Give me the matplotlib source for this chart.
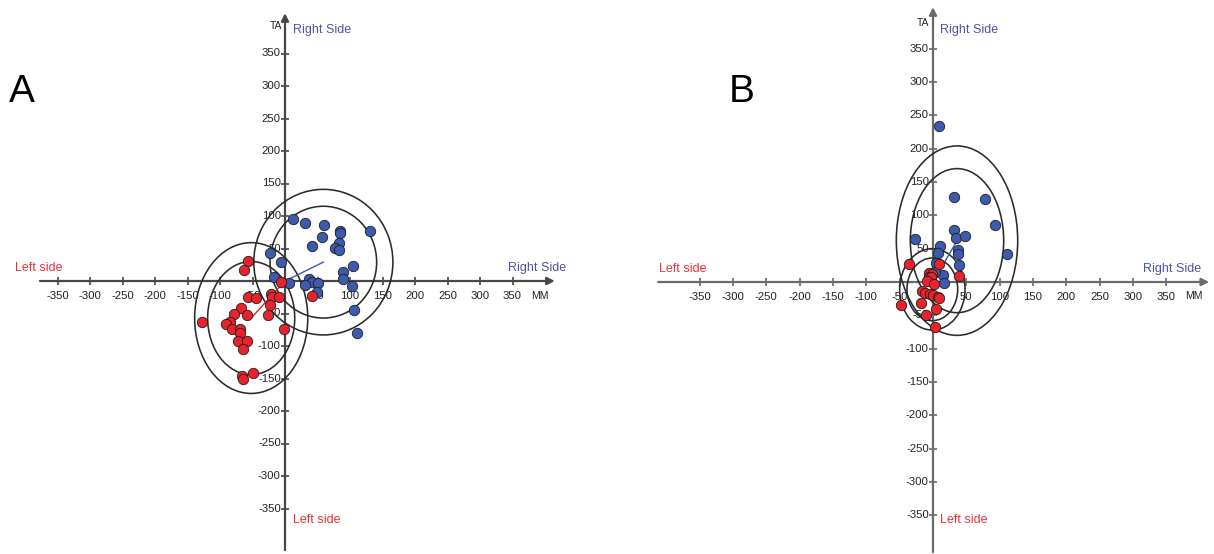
import matplotlib.pyplot as plt
from matplotlib.patches import Ellipse

plt.rcParams['font.family'] = ['Liberation Sans', 'DejaVu Sans']

# tick values shared by both panels (0 has no label)
tick_values = [-350, -300, -250, -200, -150, -100, -50, 50, 100, 150, 200, 250, 300, 350]

# Panel A - right side (blue) points: MM, TA
a_right_mm = [12.8, 31.3, 60, 57, 41, 84.6, 84.6, 131, 83.6, 76.4, 83.6, -22.6, -5.6,
              -16.4, 6.2, 36.9, 41, 31.3, 50.3, 49.7, 89.7, 88.7, 104.6, 103, 106.7, 111.3]
a_right_ta = [95.4, 89.2, 86.2, 67.7, 53.8, 76.9, 73.8, 76.9, 58.5, 50.3, 48.2, 42.6, 29.7,
              5.6, -2.6, 2.6, -1.5, -6.2, -2.6, -16.4, 13.8, 2.6, 22.6, -8.2, -45.1, -80]
# Panel A - left side (red) points
a_left_mm = [-56.9, -62.6, -6.7, -56.9, -44.6, -21, -20.5, -9.2, -22.6, -25.6, -67.2, -77.9,
             -57.9, -84.6, -91.3, -127, -81.5, -69.2, -68.7, -1, -72.3, -57.9, -65.1, -66.1,
             -64.6, -49.7, 41.5]
a_left_ta = [30.8, 17.4, -2.1, -24.6, -26.7, -20.5, -24.6, -24.6, -36.9, -52.3, -41, -50.3,
             -51.8, -62.6, -65.6, -62.6, -74.4, -73.8, -80, -74.4, -92.8, -92.3, -104.6,
             -145.6, -151.3, -142, -23.6]

# Panel B - right side (blue) points
b_right_mm = [8.5, 31.5, 78.5, 92.5, 111, -26.5, 32, 34, 48.5, 11, 7, 37, 37, 38.5, 4.5, 15, 16, 2.5]
b_right_ta = [234, 128, 125, 85, 41.5, 64, 78, 66, 68.5, 54, 44, 48, 42, 25.5, 29, 10.5, -2, 15.5]
# Panel B - left side (red) points
b_left_mm = [-36.5, 8.5, 39.5, -6.5, -1.5, -6.5, -2.5, -9, 1, -16.5, -11.5, -4, 0, 7, 8.5,
             -18, -48, -10, 5, 3.5]
b_left_ta = [26.5, 26.5, 9.5, 13, 11.5, 8, 8, 2, -3.5, -13.5, -17, -18.5, -20, -22, -24.5,
             -31, -35, -49.5, -40, -67]

# confidence ellipses: center (MM, TA), outer semi-axes, inner semi-axes
a_right_center = (59, 29)
a_right_outer = (107, 112)
a_right_inner = (82, 86)
a_left_center = (-52, -57)
a_left_outer = (87, 116)
a_left_inner = (67, 87)
b_right_center = (36, 62)
b_right_outer = (91, 142)
b_right_inner = (70, 108)
b_left_center = (-1, -11)
b_left_outer = (49, 61)
b_left_inner = (38, 47)

BLUE = '#3d5aae'
RED = '#e8232b'
BLUE_TEXT = '#4a55a8'
RED_TEXT = '#ee3038'

FIG_W, FIG_H = 1214, 554


def make_axes(fig, origin_px, scale, xlim, ylim):
    """Place an axes so that data (0, 0) lands on origin_px with scale px per unit."""
    ox, oy = origin_px
    left = ox + xlim[0] * scale
    top = oy - ylim[1] * scale
    width = (xlim[1] - xlim[0]) * scale
    height = (ylim[1] - ylim[0]) * scale
    ax = fig.add_axes([left / FIG_W, (FIG_H - top - height) / FIG_H, width / FIG_W, height / FIG_H])
    ax.set_xlim(*xlim)
    ax.set_ylim(*ylim)
    ax.set_axis_off()
    return ax


def draw_frame(ax, x_span, y_span, axis_color):
    # the two axes with arrow heads
    arrow = dict(arrowstyle='-|>', color=axis_color, lw=1.6, mutation_scale=11, shrinkA=0, shrinkB=0)
    ax.annotate('', xy=(x_span[1], 0), xytext=(x_span[0], 0), arrowprops=arrow, zorder=1)
    ax.annotate('', xy=(0, y_span[1]), xytext=(0, y_span[0]), arrowprops=arrow, zorder=1)

    # tick marks and labels
    for t in tick_values:
        ax.plot(t, 0, marker='|', color=axis_color, markersize=6, mew=1.2, zorder=1)
        ax.plot(0, t, marker='_', color=axis_color, markersize=6, mew=1.2, zorder=1)
        ax.annotate(str(t), (t, 0), xytext=(0, -11), textcoords='offset points',
                    ha='center', va='center', fontsize=8.2, color='#222222', zorder=1)
        ax.annotate(str(t), (0, t), xytext=(-3, 0), textcoords='offset points',
                    ha='right', va='center', fontsize=8.2, color='#222222', zorder=1)


def draw_group(ax, mm, ta, center, outer, inner, color):
    for semi in (outer, inner):
        ax.add_patch(Ellipse(center, 2 * semi[0], 2 * semi[1], fill=False,
                             edgecolor='#2b2b2b', lw=1.15, zorder=2))
    ax.plot([0, center[0]], [0, center[1]], color=color, lw=1.0, zorder=3)
    ax.scatter(mm, ta, s=56, color=color, edgecolors='#1e1e1e', linewidths=0.6, zorder=4)


def main():
    fig = plt.figure(figsize=(FIG_W / 100, FIG_H / 100), dpi=100)

    # ---- panel A ----
    scale_a = 0.65
    ax_a = make_axes(fig, (285, 281), scale_a, (-400, 420), (-420, 420))
    draw_frame(ax_a, (-377, 415), (-414, 412), '#474747')
    draw_group(ax_a, a_right_mm, a_right_ta, a_right_center, a_right_outer, a_right_inner, BLUE)
    draw_group(ax_a, a_left_mm, a_left_ta, a_left_center, a_left_outer, a_left_inner, RED)
    ax_a.text(-5, 392, 'TA', ha='right', va='center', fontsize=7.5, color='#222222')
    ax_a.text(13, 386, 'Right Side', ha='left', va='center', fontsize=9, color=BLUE_TEXT)
    ax_a.text(13, -368, 'Left side', ha='left', va='center', fontsize=9, color=RED_TEXT)
    ax_a.text(-416, 20, 'Left side', ha='left', va='center', fontsize=9, color=RED_TEXT)
    ax_a.text(343, 20, 'Right Side', ha='left', va='center', fontsize=9, color=BLUE_TEXT)
    ax_a.text(378, -23, 'MM', ha='left', va='center', fontsize=7.5, color='#222222')
    fig.text(9 / FIG_W, 1 - 92 / FIG_H, 'A', fontsize=28, ha='left', va='center')

    # ---- panel B ----
    scale_b = 0.667
    ax_b = make_axes(fig, (933, 282), scale_b, (-420, 420), (-408, 415))
    draw_frame(ax_b, (-412, 414), (-405, 412), '#6a6a6a')
    draw_group(ax_b, b_right_mm, b_right_ta, b_right_center, b_right_outer, b_right_inner, BLUE)
    draw_group(ax_b, b_left_mm, b_left_ta, b_left_center, b_left_outer, b_left_inner, RED)
    ax_b.text(-5, 389, 'TA', ha='right', va='center', fontsize=7.5, color='#222222')
    ax_b.text(10, 378, 'Right Side', ha='left', va='center', fontsize=9, color=BLUE_TEXT)
    ax_b.text(10, -357, 'Left side', ha='left', va='center', fontsize=9, color=RED_TEXT)
    ax_b.text(-411, 20, 'Left side', ha='left', va='center', fontsize=9, color=RED_TEXT)
    ax_b.text(315, 20, 'Right Side', ha='left', va='center', fontsize=9, color=BLUE_TEXT)
    ax_b.text(378, -21, 'MM', ha='left', va='center', fontsize=7.5, color='#222222')
    fig.text(729 / FIG_W, 1 - 92 / FIG_H, 'B', fontsize=28, ha='left', va='center')

    fig.savefig('out.png', dpi=100)
    plt.close(fig)


if __name__ == '__main__':
    main()
